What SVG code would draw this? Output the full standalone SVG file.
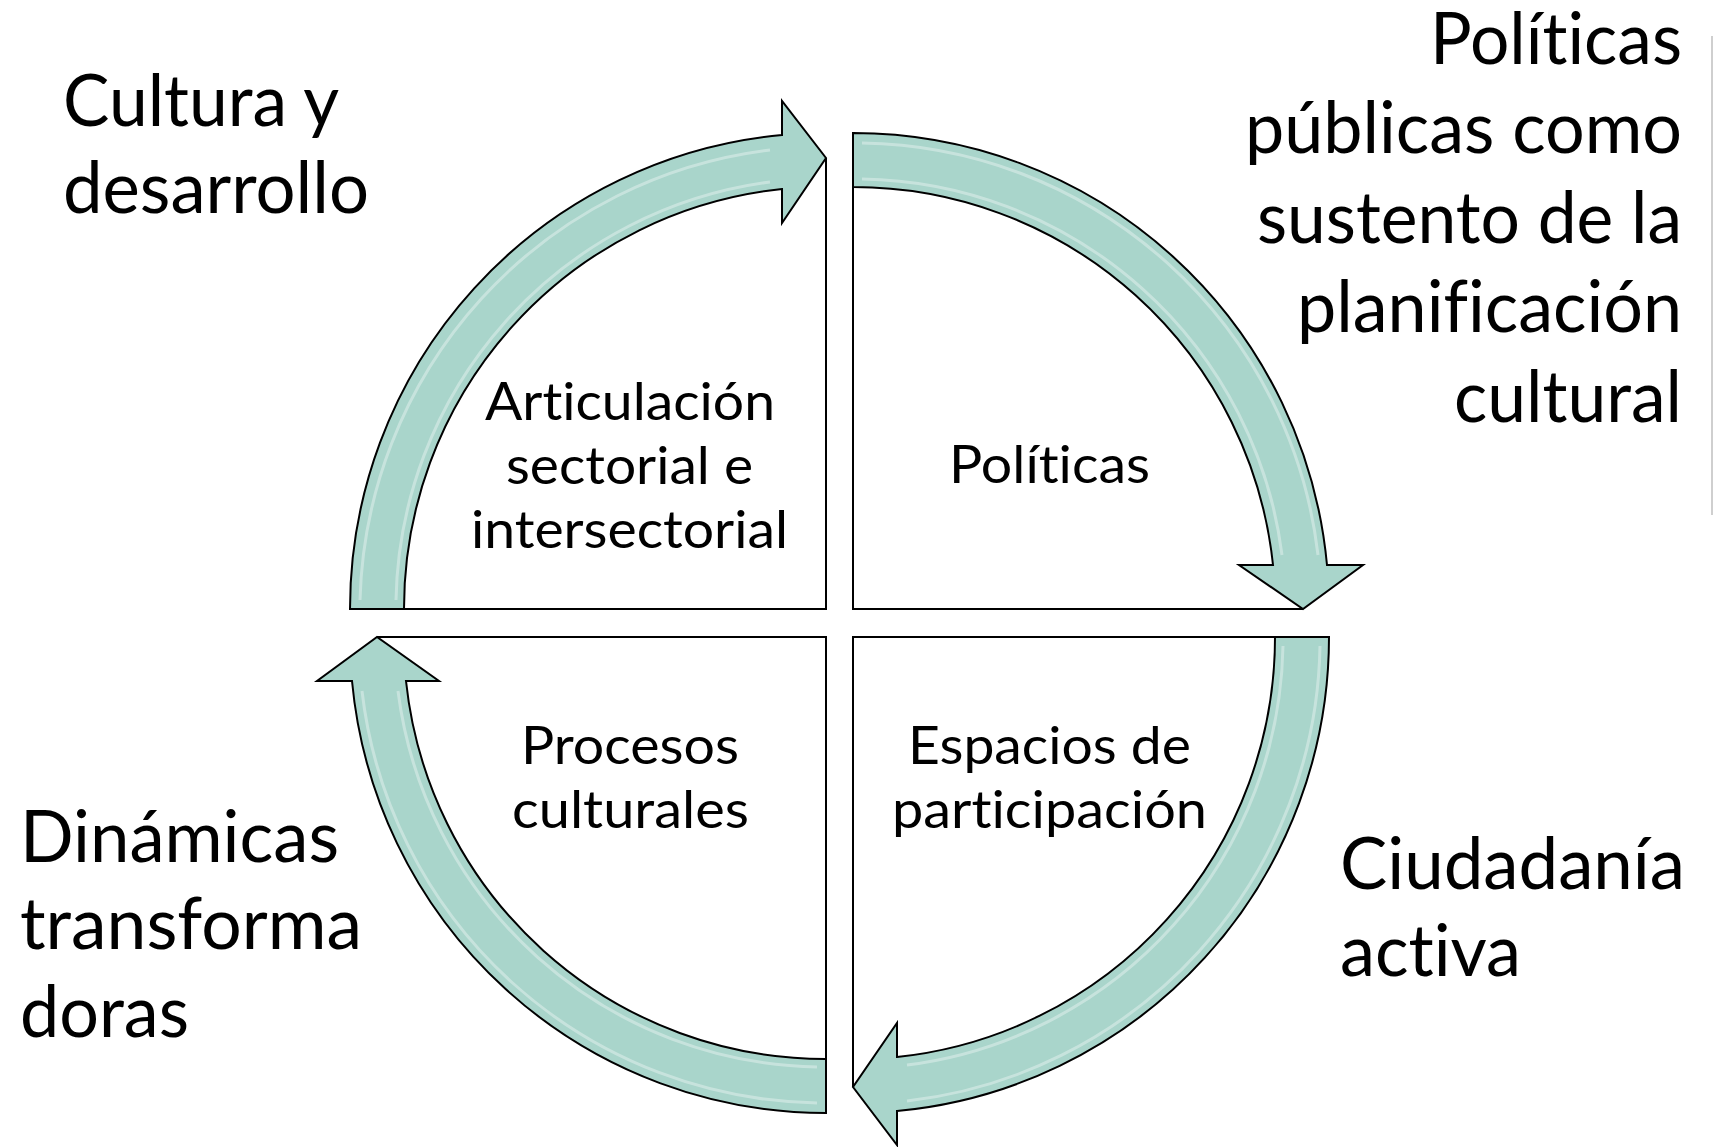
<svg xmlns="http://www.w3.org/2000/svg" width="1714" height="1147" viewBox="0 0 1714 1147">
<defs>
<style>
.box{fill:none;stroke:#000;stroke-width:2;stroke-linejoin:miter}
.arrow{fill:#A9D5CB;stroke:#000;stroke-width:2;stroke-linejoin:miter}
.hl{fill:none;stroke:#ffffff;stroke-opacity:0.35;stroke-width:3}
.big{font-family:Lato,"Liberation Sans",sans-serif;font-size:72px;fill:#000;font-variant-ligatures:none;font-feature-settings:"liga" 0,"clig" 0,"dlig" 0}
.lbl{font-family:Lato,"Liberation Sans",sans-serif;font-size:52px;fill:#000;font-variant-ligatures:none;font-feature-settings:"liga" 0,"clig" 0,"dlig" 0}
</style>
</defs>
<rect x="0" y="0" width="1714" height="1147" fill="#fff"/>
<line x1="1712" y1="36" x2="1712" y2="515" stroke="#cfcfcf" stroke-width="2"/>

<g id="node-articulacion">
<path class="box" d="M826,158 V609 H360"/>
<text class="lbl" x="485" y="420" textLength="290" lengthAdjust="spacingAndGlyphs">Articulación</text>
<text class="lbl" x="506" y="484" textLength="247" lengthAdjust="spacingAndGlyphs">sectorial e</text>
<text class="lbl" x="471" y="548" textLength="317" lengthAdjust="spacingAndGlyphs">intersectorial</text>
</g>
<g id="node-politicas">
<path class="box" d="M853,133 V609 H1303"/>
<text class="lbl" x="949" y="483" textLength="201" lengthAdjust="spacingAndGlyphs">Políticas</text>
</g>
<g id="node-espacios">
<path class="box" d="M853,1087 V637 H1300"/>
<text class="lbl" x="908" y="764" textLength="283" lengthAdjust="spacingAndGlyphs">Espacios de</text>
<text class="lbl" x="892" y="828" textLength="315" lengthAdjust="spacingAndGlyphs">participación</text>
</g>
<g id="node-procesos">
<path class="box" d="M377,637 H826 V1100"/>
<text class="lbl" x="521" y="764" textLength="218" lengthAdjust="spacingAndGlyphs">Procesos</text>
<text class="lbl" x="512" y="828" textLength="237" lengthAdjust="spacingAndGlyphs">culturales</text>
</g>

<g id="connectors">
<path class="arrow" d="M350,609 A476,476 0 0 1 782,135 L782,101 L826,158 L782,223 L782,189 A422,422 0 0 0 404,609 Z"/>
<path class="hl" d="M360,600 A466,466 0 0 1 770,150"/>
<path class="hl" d="M396,600 A430,430 0 0 1 770,182"/>
<path class="arrow" d="M853,133 A476,476 0 0 1 1327,565 L1363,565 L1303,609 L1239,565 L1273,565 A422,422 0 0 0 853,187 Z"/>
<path class="hl" d="M862,143 A466,466 0 0 1 1318,555"/>
<path class="hl" d="M862,179 A430,430 0 0 1 1282,555"/>
<path class="arrow" d="M1329,637 A476,476 0 0 1 897,1111 L897,1145 L853,1087 L897,1023 L897,1057 A422,422 0 0 0 1275,637 Z"/>
<path class="hl" d="M1320,646 A466,466 0 0 1 907,1101"/>
<path class="hl" d="M1283,646 A430,430 0 0 1 907,1065"/>
<path class="arrow" d="M826,1113 A476,476 0 0 1 352,681 L317,681 L377,637 L439,681 L406,681 A422,422 0 0 0 826,1059 Z"/>
<path class="hl" d="M817,1103 A466,466 0 0 1 362,691"/>
<path class="hl" d="M817,1067 A430,430 0 0 1 398,691"/>
</g>

<g id="label-cultura">
<text class="big" x="63" y="126" textLength="276" lengthAdjust="spacingAndGlyphs">Cultura y</text>
<text class="big" x="63" y="213" textLength="306" lengthAdjust="spacingAndGlyphs">desarrollo</text>
</g>
<g id="label-politicas-publicas">
<text class="big" x="1430" y="64" textLength="252" lengthAdjust="spacingAndGlyphs">Políticas</text>
<text class="big" x="1245" y="153" textLength="437" lengthAdjust="spacingAndGlyphs">públicas como</text>
<text class="big" x="1257" y="243" textLength="425" lengthAdjust="spacingAndGlyphs">sustento de la</text>
<text class="big" x="1297" y="332" textLength="385" lengthAdjust="spacingAndGlyphs">planificación</text>
<text class="big" x="1454" y="422" textLength="228" lengthAdjust="spacingAndGlyphs">cultural</text>
</g>
<g id="label-ciudadania">
<text class="big" x="1340" y="889" textLength="345" lengthAdjust="spacingAndGlyphs">Ciudadanía</text>
<text class="big" x="1340" y="976" textLength="181" lengthAdjust="spacingAndGlyphs">activa</text>
</g>
<g id="label-dinamicas">
<text class="big" x="20" y="862" textLength="319" lengthAdjust="spacingAndGlyphs">Dinámicas</text>
<text class="big" x="20" y="949" textLength="342" lengthAdjust="spacingAndGlyphs">transforma</text>
<text class="big" x="20" y="1037" textLength="169" lengthAdjust="spacingAndGlyphs">doras</text>
</g>
</svg>
